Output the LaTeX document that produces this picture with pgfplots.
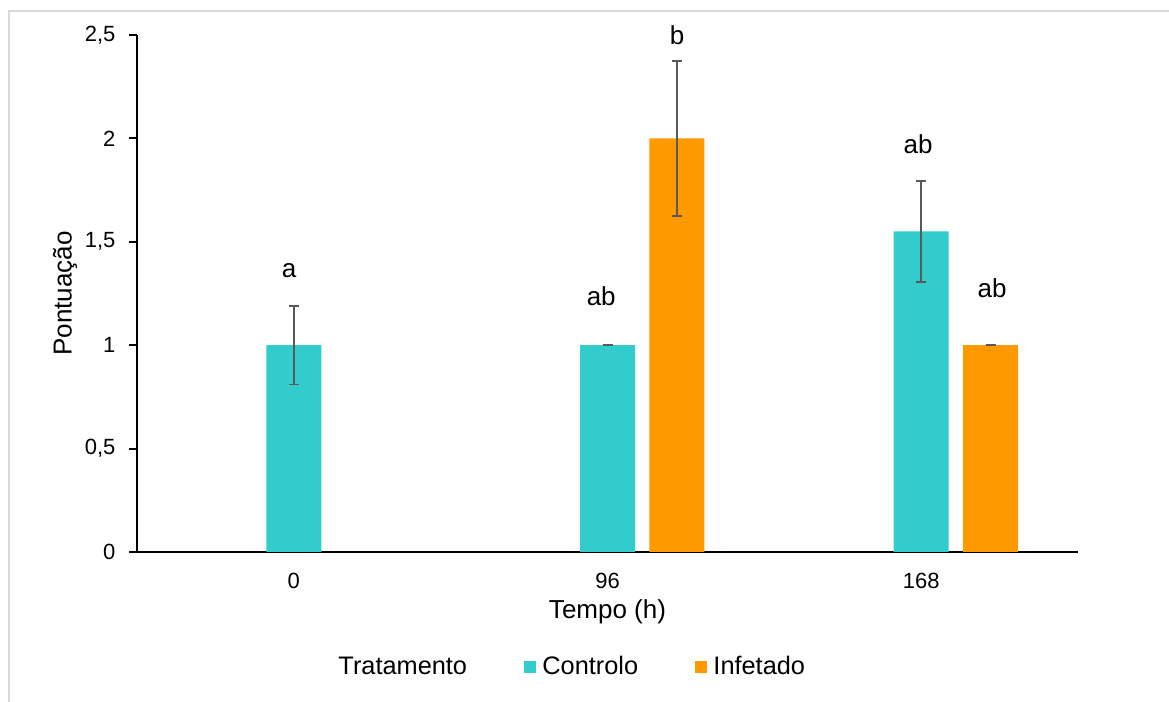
\documentclass[border=0pt]{standalone}
\usepackage{pgfplots}
\pgfplotsset{compat=1.18}
\usepackage{fontspec}
\setmainfont{Liberation Sans}
\definecolor{ctrl}{HTML}{33CCCC}
\definecolor{inf}{HTML}{FF9900}
\definecolor{errc}{HTML}{595959}
\definecolor{frame}{HTML}{D9D9D9}
\begin{document}
\begin{tikzpicture}[x=1pt,y=1pt]
\useasboundingbox (0,0) rectangle (876.75,526.5);
\draw[frame, line width=1.5pt] (6.4,-2) -- (6.4,518.25) -- (880,518.25);
\begin{axis}[
  at={(102.75pt,112.5pt)}, anchor=south west,
  scale only axis, width=705.75pt, height=387.75pt,
  xmin=-0.5, xmax=2.5, ymin=0, ymax=2.5,
  axis lines*=left,
  axis line style={black, line width=1.5pt, -},
  xtick={0,1,2}, xticklabels={0,96,168},
  xtick style={draw=none},
  ytick={0,0.5,1,1.5,2,2.5},
  ytick style={black, line width=1.5pt},
  tick align=outside, major tick length=6pt,
  /pgf/number format/use comma,
  /pgf/number format/assume math mode=true,
  yticklabel style={font=\fontsize{16.5}{18}\selectfont, inner sep=0pt, xshift=-10pt},
  xticklabel style={font=\fontsize{16.5}{18}\selectfont, inner sep=0pt, yshift=-10pt},
  ylabel={Pontuação},
  xlabel={Tempo (h)},
  ylabel style={font=\fontsize{19.5}{22}\selectfont, at={(axis description cs:-0.0765,0.5)}, anchor=center},
  xlabel style={font=\fontsize{19.5}{22}\selectfont, at={(axis description cs:0.5,-0.116)}, anchor=center},
  ybar, bar width=41.25pt,
  legend columns=3,
  legend style={draw=none, font=\fontsize{19}{22}\selectfont, at={(axis description cs:0.462,-0.222)}, anchor=center,
    /tikz/every even column/.append style={column sep=41pt}},
  clip=false,
]
\addlegendimage{empty legend}
\addlegendentry{Tratamento}
\addplot[fill=ctrl, draw=none, bar shift=0pt,
  legend image code/.code={\fill[ctrl] (0pt,-4.5pt) rectangle (9pt,4.5pt);\path (0pt,0pt) -- (11.5pt,0pt);},
  error bars/.cd, y dir=both, y explicit,
  error bar style={errc, line width=1.3pt},
  error mark options={rotate=90, errc, mark size=3.75pt, line width=1.3pt}]
  coordinates {(0,1) +- (0,0.19) (1,1) +- (0,0) (2,1.55) +- (0,0.245)};
\addlegendentry{Controlo}
\addplot[fill=inf, draw=none, bar shift=0pt,
  legend image code/.code={\fill[inf] (0pt,-4.5pt) rectangle (9pt,4.5pt);\path (0pt,0pt) -- (11.5pt,0pt);},
  error bars/.cd, y dir=both, y explicit,
  error bar style={errc, line width=1.3pt},
  error mark options={rotate=90, errc, mark size=3.75pt, line width=1.3pt}]
  coordinates {(1.2215,2) +- (0,0.375) (2.2215,1) +- (0,0)};
\addlegendentry{Infetado}
\begin{scope}[every node/.style={font=\fontsize{19.5}{22}\selectfont, anchor=base, inner sep=0pt}]
\node at (axis cs:-0.015,1.325) {a};
\node at (axis cs:0.98,1.19) {ab};
\node at (axis cs:1.2215,2.452) {b};
\node at (axis cs:1.99,1.929) {ab};
\node at (axis cs:2.226,1.233) {ab};
\end{scope}
\end{axis}
\end{tikzpicture}
\end{document}
